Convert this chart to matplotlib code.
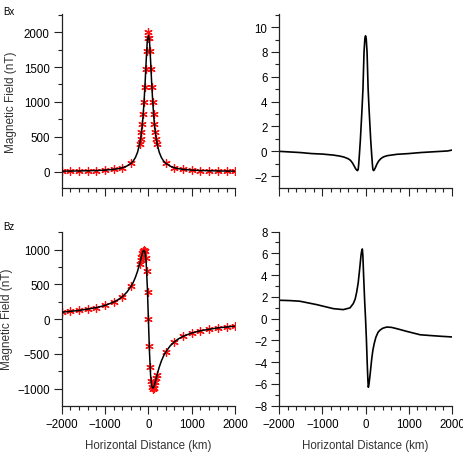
import matplotlib
matplotlib.use("Agg")
import matplotlib.pyplot as plt
from matplotlib.ticker import MultipleLocator

plt.rcParams["font.family"] = ["Liberation Sans", "DejaVu Sans"]

# ---- observed points (red asterisks), km ----
obs_x = [-2000, -1800, -1600, -1400, -1200, -1000, -800, -600, -400,
         -200, -180, -160, -140, -120, -100, -80, -60, -40, -20, 0,
         20, 40, 60, 80, 100, 120, 140, 160, 180, 200,
         400, 600, 800, 1000, 1200, 1400, 1600, 1800, 2000]
obs_bx = [5, 6, 8, 10, 14, 20, 31, 54, 118,
          400, 472, 562, 676, 820, 1000, 1220, 1471, 1724, 1923, 2000,
          1923, 1724, 1471, 1220, 1000, 820, 676, 562, 472, 400,
          118, 54, 31, 20, 14, 10, 8, 6, 5]
obs_bz = [100, 111, 125, 142, 166, 198, 246, 324, 471,
          800, 849, 899, 946, 984, 1000, 976, 882, 690, 385, 0,
          -385, -690, -882, -976, -1000, -984, -946, -899, -849, -800,
          -471, -324, -246, -198, -166, -142, -125, -111, -100]

# ---- model curve (black line) ----
line_x = [-2000, -1600, -1200, -1000, -800, -700, -600, -500, -400, -350,
          -300, -250, -200, -175, -150, -125, -100, -75, -50, -25, 0,
          25, 50, 75, 100, 125, 150, 175, 200, 250, 300,
          350, 400, 500, 600, 700, 800, 1000, 1200, 1600, 2000]
line_bx = [5, 8, 14, 20, 31, 40, 54, 77, 118, 151,
           200, 276, 400, 492, 615, 780, 1000, 1280, 1600, 1882, 1950,
           1882, 1600, 1280, 1000, 780, 615, 492, 400, 276, 200,
           151, 118, 77, 54, 40, 31, 20, 14, 8, 5]
line_bz = [100, 125, 166, 198, 246, 280, 324, 385, 471, 528,
           600, 690, 800, 862, 923, 976, 990, 960, 800, 471, 0,
           -471, -800, -960, -990, -976, -923, -862, -800, -690, -600,
           -528, -471, -385, -324, -280, -246, -198, -166, -125, -100]

# ---- difference curves (right panels) ----
dx_x = [-2000, -1750, -1500, -1250, -1000, -750, -600, -500, -400, -350,
        -300, -260, -230, -200, -185, -170, -160, -143, -120, -100, -81,
        -60, -35, -15, 0, 15, 35, 60, 81, 100, 120,
        143, 160, 170, 185, 200, 230, 260, 300, 350, 413, 500,
        724, 1000, 1265, 1500, 1750, 1900, 2000]
dx_val = [0.0, -0.05, -0.1, -0.18, -0.22, -0.3, -0.38, -0.46, -0.6, -0.72,
          -0.95, -1.2, -1.4, -1.52, -1.55, -1.45, -1.1, -0.3, 0.9, 2.2, 3.45,
          5.0, 8.0, 9.1, 9.3, 9.1, 8.0, 5.0, 3.45, 2.2, 0.9,
          -0.3, -1.1, -1.45, -1.55, -1.5, -1.3, -1.05, -0.8, -0.6, -0.45, -0.35,
          -0.24, -0.18, -0.1, -0.05, 0.0, 0.03, 0.1]
dz_x = [-2000, -1750, -1520, -1132, -747, -515, -360, -283, -240, -204,
        -170, -143, -120, -104, -88, -74, -62, -45, -20, 0,
        20, 40, 55, 65, 80, 104, 125, 143, 170, 200,
        240, 290, 336, 400, 491, 600, 724, 956, 1265, 1500, 1750, 2000]
dz_val = [1.69, 1.66, 1.6, 1.29, 0.92, 0.83, 0.99, 1.39, 1.8, 2.46,
          3.3, 4.3, 5.2, 5.85, 6.25, 6.4, 5.8, 4.0, 1.6, 0.0,
          -1.9, -4.2, -5.7, -6.3, -6.0, -5.2, -4.4, -3.7, -2.9, -2.3,
          -1.7, -1.25, -1.05, -0.88, -0.77, -0.8, -0.92, -1.17, -1.48, -1.55, -1.62, -1.68]

fig = plt.figure(figsize=(4.63, 4.56), dpi=100)
ax_tl = fig.add_axes([0.133, 0.585, 0.375, 0.382])
ax_tr = fig.add_axes([0.603, 0.585, 0.373, 0.382])
ax_bl = fig.add_axes([0.133, 0.108, 0.375, 0.382])
ax_br = fig.add_axes([0.603, 0.108, 0.373, 0.382])

star = (6, 2, 0)
ax_tl.plot(obs_x, obs_bx, ls="none", marker=star, ms=6, mec="#ff1010", mew=0.9, zorder=2)
ax_tl.plot(line_x, line_bx, color="black", lw=1.1, zorder=3)
ax_bl.plot(obs_x, obs_bz, ls="none", marker=star, ms=6, mec="#ff1010", mew=0.9, zorder=2)
ax_bl.plot(line_x, line_bz, color="black", lw=1.1, zorder=3)
ax_tr.plot(dx_x, dx_val, color="black", lw=1.2)
ax_br.plot(dz_x, dz_val, color="black", lw=1.2)

ax_tl.set_ylim(-240, 2260)
ax_tl.yaxis.set_major_locator(MultipleLocator(500))
ax_tl.yaxis.set_minor_locator(MultipleLocator(250))
ax_bl.set_ylim(-1245, 1260)
ax_bl.yaxis.set_major_locator(MultipleLocator(500))
ax_bl.yaxis.set_minor_locator(MultipleLocator(250))
ax_tr.set_ylim(-2.97, 11.05)
ax_tr.yaxis.set_major_locator(MultipleLocator(2))
ax_tr.yaxis.set_minor_locator(MultipleLocator(1))
ax_br.set_ylim(-8, 8)
ax_br.yaxis.set_major_locator(MultipleLocator(2))
ax_br.yaxis.set_minor_locator(MultipleLocator(1))

for ax in (ax_tl, ax_tr, ax_bl, ax_br):
    ax.set_xlim(-2000, 2000)
    ax.xaxis.set_major_locator(MultipleLocator(1000))
    ax.xaxis.set_minor_locator(MultipleLocator(200))
    for s in ("top", "right"):
        ax.spines[s].set_visible(False)
    for s in ("left", "bottom"):
        ax.spines[s].set_linewidth(0.9)
        ax.spines[s].set_color("#222222")
    ax.tick_params(which="major", length=5.5, width=0.8, labelsize=8.3,
                   pad=3, color="#222222")
    ax.tick_params(which="minor", length=3, width=0.8, color="#222222")
    ax.set_facecolor("none")

for ax in (ax_tl, ax_tr):
    ax.tick_params(axis="x", labelbottom=False)

for ax in (ax_bl, ax_br):
    ax.set_xlabel("Horizontal Distance (km)", fontsize=8.3, color="#333333", labelpad=7)

ax_tl.set_ylabel("Magnetic Field (nT)", fontsize=8.5, color="#333333", labelpad=5)
ax_bl.set_ylabel("Magnetic Field (nT)", fontsize=8.5, color="#333333", labelpad=3)

fig.text(0.007, 0.973, "Bx", fontsize=7, va="center")
fig.text(0.007, 0.503, "Bz", fontsize=7, va="center")

fig.savefig("out.png", dpi=100, facecolor="white")
